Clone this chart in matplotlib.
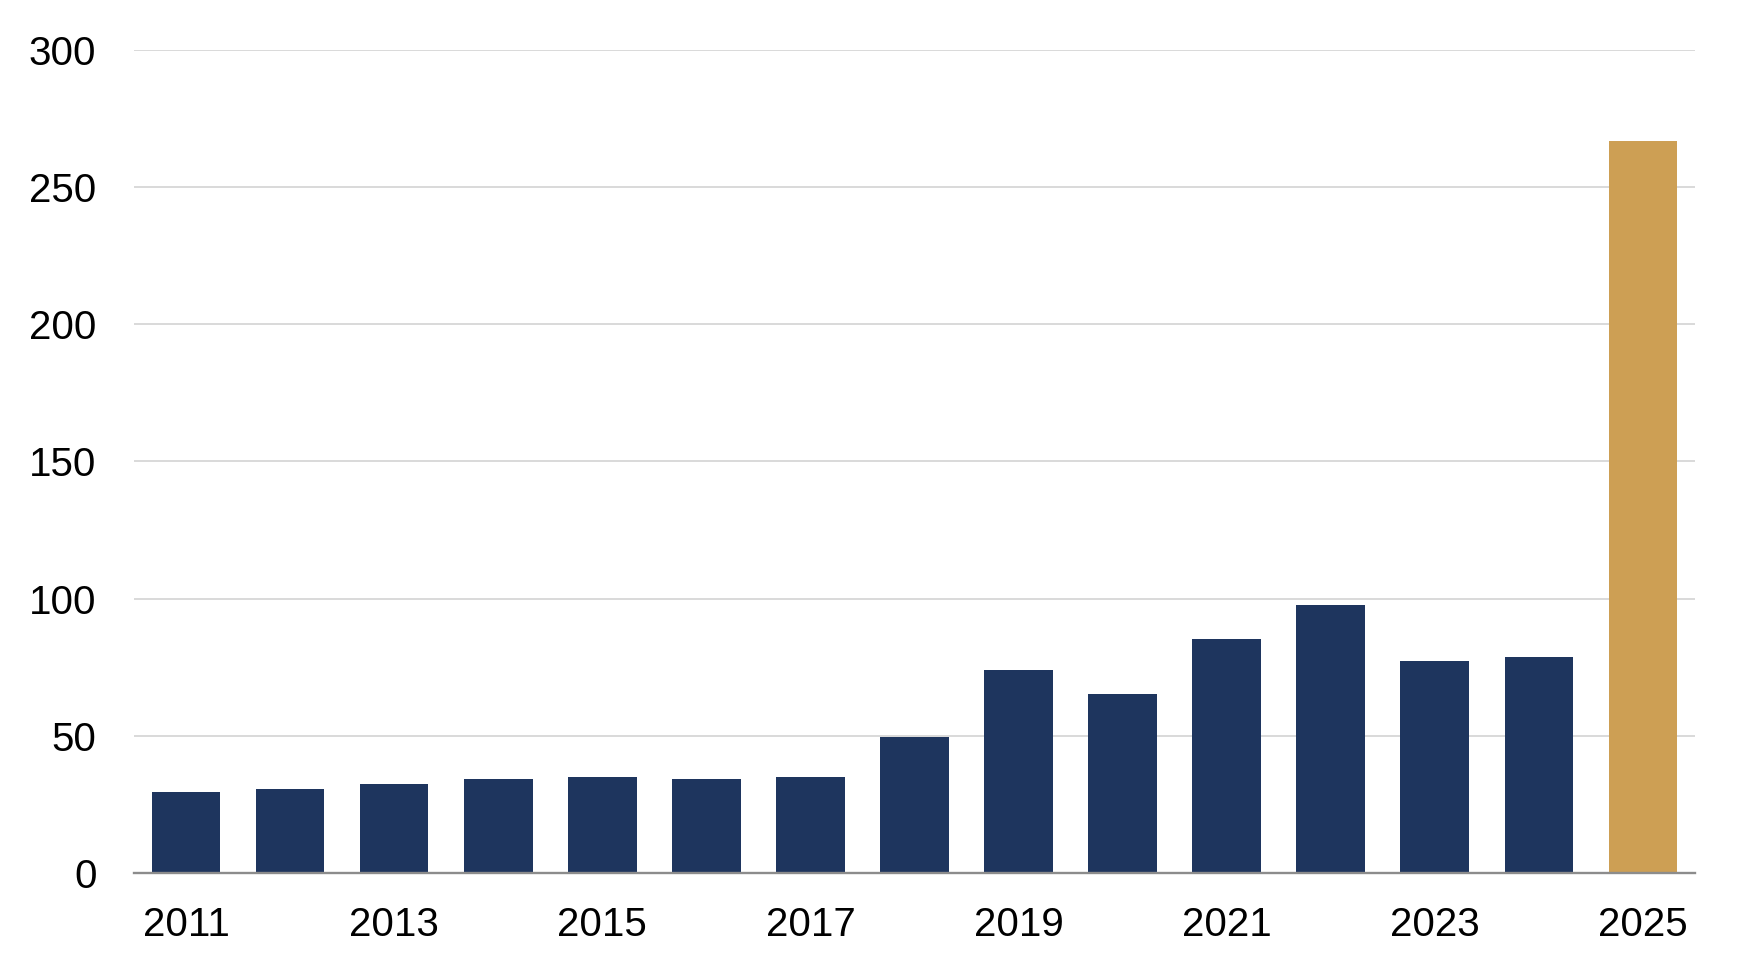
import numpy as np
import matplotlib.pyplot as plt

# values
years = list(range(2011, 2026))
values = [29.4, 30.5, 32.3, 34.2, 34.9, 34.2, 34.9, 49.5, 74.0, 65.3, 85.3, 97.7, 77.3, 78.7, 266.9]
y_ticks = [0, 50, 100, 150, 200, 250, 300]

NAVY = '#1e355e'
GOLD = '#cd9f54'

plt.rcParams['font.family'] = ['Liberation Sans', 'DejaVu Sans']

fig = plt.figure(figsize=(17.46, 9.74), dpi=100)
ax = fig.add_axes([0.0767, 0.1037, 0.8941, 0.845])

x = np.arange(len(years))
# last year highlighted in gold
colors = [NAVY] * (len(years) - 1) + [GOLD]
ax.bar(x, values, width=0.66, color=colors, zorder=2)

ax.set_xlim(-0.5, len(years) - 0.5)
ax.set_ylim(0, 300)

# label every other year
ax.set_xticks(x[::2])
ax.set_xticklabels([str(y) for y in years[::2]])
ax.set_yticks(y_ticks)

ax.tick_params(axis='both', length=0, labelsize=29)
ax.tick_params(axis='y', pad=27)
ax.tick_params(axis='x', pad=24)

ax.grid(axis='y', color='#d9d9d9', linewidth=1.4, zorder=0)
ax.set_axisbelow(True)

for side in ['top', 'right', 'left']:
    ax.spines[side].set_visible(False)
ax.spines['bottom'].set_color('#8c8c8c')
ax.spines['bottom'].set_linewidth(1.7)
ax.spines['bottom'].set_zorder(3)

fig.savefig('out.png', dpi=100)
